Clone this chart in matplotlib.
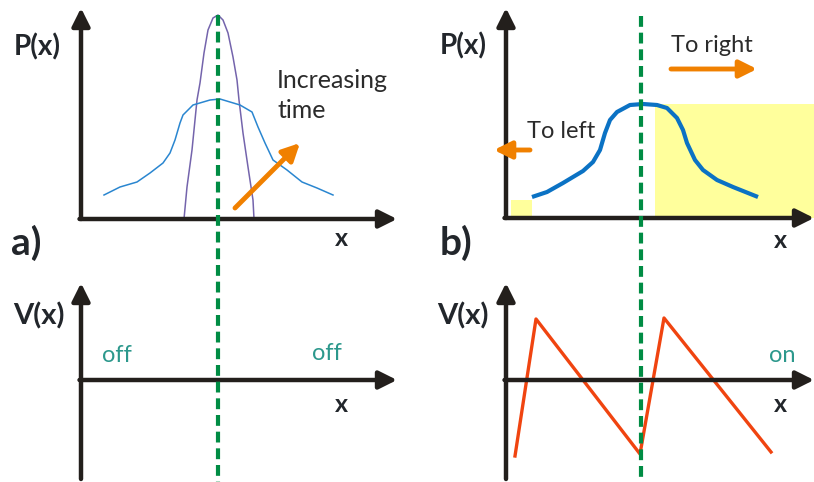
import matplotlib.pyplot as plt
import matplotlib.patches as mpatches

# pixel-like canvas, y grows downward
W, H = 814, 482

# panel a: curves
purple_x = [184, 187, 192, 197, 200, 204, 208, 213, 218, 223, 228, 233, 237, 239, 243, 248, 253, 254]
purple_y = [219, 187, 150, 100, 83, 53, 30, 18, 15, 20, 33, 57, 80, 100, 133, 167, 200, 219]
blue_a_x = [104, 120, 137, 150, 163, 170, 175, 180, 183, 193, 210, 220, 230, 240, 252, 258, 265, 273, 287, 302, 317, 333]
blue_a_y = [195, 187, 182, 173, 163, 153, 140, 123, 115, 105, 100, 99, 102, 105, 112, 127, 143, 160, 170, 182, 188, 195]

# panel b: curves
blue_b_x = [532, 547, 563, 583, 593, 600, 605, 610, 617, 630, 643, 657, 667, 677, 683, 687, 695, 703, 717, 733, 758]
blue_b_y = [197, 192, 183, 171, 162, 150, 133, 120, 112, 105, 104, 105, 108, 118, 130, 143, 160, 170, 180, 187, 197]
saw_x = [515, 536, 640, 664, 771]
saw_y = [456, 319, 454, 318, 452]

# yellow regions (x0, x1, y_top, y_bottom)
yellow_boxes = [(511, 532, 200, 218), (655, 814, 104, 218)]

# axes: origin, x arrow tip, y arrow tip, y bottom
axes_defs = [
    dict(ox=81, oy=219, xtip=397, ytop=8, ybot=219),
    dict(ox=506, oy=218, xtip=814, ytop=8, ybot=218),
    dict(ox=81, oy=380, xtip=397, ytop=283, ybot=479),
    dict(ox=506, oy=380, xtip=814, ytop=283, ybot=479),
]

dash_x = [218, 641]
dash_top = [15, 16]

AX_COL = '#231f1c'
FONT = 'Lato'

fig = plt.figure(figsize=(W / 100, H / 100), dpi=100)
ax = fig.add_axes([0, 0, 1, 1])
ax.set_xlim(0, W)
ax.set_ylim(H, 0)
ax.axis('off')

for x0, x1, yt, yb in yellow_boxes:
    ax.add_patch(mpatches.Rectangle((x0, yt), x1 - x0, yb - yt, color='#ffff9c', lw=0, zorder=1))

ax.plot(purple_x, purple_y, color='#7464ac', lw=1.1, zorder=3)
ax.plot(blue_a_x, blue_a_y, color='#2a86d0', lw=1.1, zorder=3)
ax.plot(blue_b_x, blue_b_y, color='#0b72c4', lw=3, zorder=3, solid_capstyle='butt')
ax.plot(saw_x, saw_y, color='#f04410', lw=2.4, zorder=3)

for d in axes_defs:
    ax.annotate('', xy=(d['xtip'], d['oy']), xytext=(d['ox'] - 1.5, d['oy']),
                arrowprops=dict(arrowstyle='-|>', lw=3.2, color=AX_COL, mutation_scale=27,
                                shrinkA=0, shrinkB=0), zorder=4)
    ax.annotate('', xy=(d['ox'], d['ytop']), xytext=(d['ox'], d['ybot']),
                arrowprops=dict(arrowstyle='-|>', lw=3.2, color=AX_COL, mutation_scale=27,
                                shrinkA=0, shrinkB=0), zorder=4)

for xd, yt in zip(dash_x, dash_top):
    ax.plot([xd, xd], [yt, H], color='#008c44', lw=3, ls=(0, (2.6, 1.4)), zorder=5)

# orange arrows
orange = '#f08000'
for start, end in [((235, 208), (300, 143)), ((671, 69), (757, 69)), ((530, 150), (494, 150))]:
    ax.annotate('', xy=end, xytext=start,
                arrowprops=dict(arrowstyle='-|>', lw=3.5, color=orange, mutation_scale=26,
                                shrinkA=0, shrinkB=0), zorder=6)

lab = dict(fontfamily=FONT, fontweight='bold', color='#22262b', ha='center', va='center')
ax.text(37, 47, 'P(x)', fontsize=20, **lab)
ax.text(463, 46, 'P(x)', fontsize=20, **lab)
ax.text(39, 316, 'V(x)', fontsize=21, **lab)
ax.text(463, 316, 'V(x)', fontsize=21, **lab)
ax.text(26, 243, 'a)', fontsize=28, **lab)
ax.text(456, 243, 'b)', fontsize=28, **lab)
for xx, yy in [(341, 238), (780, 240), (341, 405), (780, 405)]:
    ax.text(xx, yy, 'x', fontsize=18, **lab)

txt = dict(fontfamily=FONT, color='#2b2b2b', va='center', ha='left')
ax.text(277, 80, 'Increasing', fontsize=18, **txt)
ax.text(277, 110, 'time', fontsize=18, **txt)
ax.text(671, 45, 'To right', fontsize=17, **txt)
ax.text(527, 131, 'To left', fontsize=17, **txt)

teal = dict(fontfamily=FONT, color='#2c988c', va='center', ha='left', fontsize=17)
ax.text(102, 355, 'off', **teal)
ax.text(312, 354, 'off', **teal)
ax.text(769, 356, 'on', **teal)

fig.savefig('out.png', dpi=100)
